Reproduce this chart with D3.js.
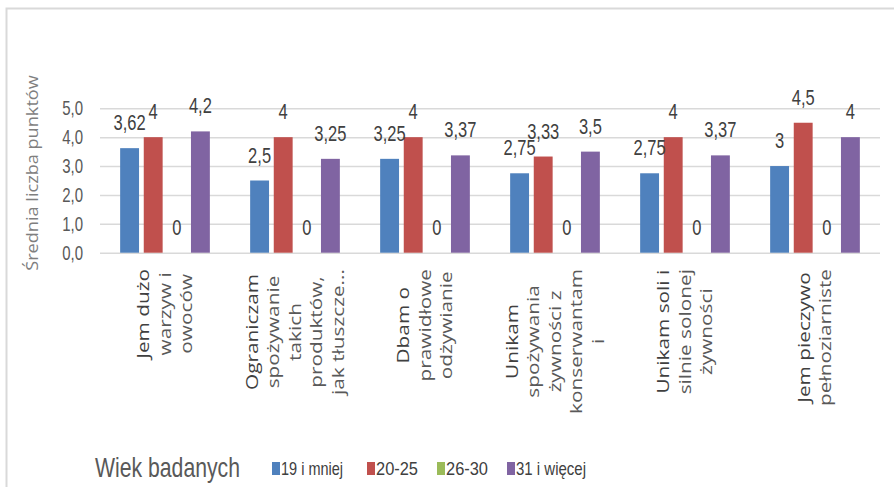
<!DOCTYPE html>
<html>
<head>
<meta charset="utf-8">
<script src="https://cdn.jsdelivr.net/npm/d3@7"></script>
<style>
  body { margin: 0; background: #fff; }
  svg { display: block; }
</style>
</head>
<body>
<div id="chart"></div>
<script>
// categories (multi-line labels as in the original)
var categories = [
  ["Jem dużo", "warzyw i", "owoców"],
  ["Ograniczam", "spożywanie", "takich", "produktów,", "jak tłuszcze..."],
  ["Dbam o", "prawidłowe", "odżywianie"],
  ["Unikam", "spożywania", "żywności z", "konserwantam", "i"],
  ["Unikam soli i", "silnie solonej", "żywności"],
  ["Jem pieczywo", "pełnoziarniste"]
];
var seriesNames = ["19 i mniej", "20-25", "26-30", "31 i więcej"];
var seriesColors = ["#4F81BD", "#C0504D", "#9BBB59", "#8064A2"];
var s19 = [3.62, 2.5, 3.25, 2.75, 2.75, 3];
var s2025 = [4, 4, 4, 3.33, 4, 4.5];
var s2630 = [0, 0, 0, 0, 0, 0];
var s31 = [4.2, 3.25, 3.37, 3.5, 3.37, 4];
var yTicks = [0, 1, 2, 3, 4, 5];

var seriesValues = [s19, s2025, s2630, s31];
var W = 894, H = 487;
var plot = {left: 100, right: 880, top: 108.3, bottom: 252.7};
var narrow = "'Liberation Sans', Arial, sans-serif";
var sans = "'Open Sans', 'Noto Sans', sans-serif";
var squeeze = 0.75;   // the original picture is stretched vertically

var svg = d3.select("#chart").append("svg")
  .attr("width", W).attr("height", H);

// outer chart frame (only top and left edges are in view)
svg.append("rect")
  .attr("x", 6.5).attr("y", 8.5)
  .attr("width", W + 20).attr("height", H + 20)
  .attr("fill", "none").attr("stroke", "#d9d9d9").attr("stroke-width", 2);

var x0 = d3.scaleBand()
  .domain(d3.range(categories.length))
  .range([plot.left, plot.right])
  .paddingInner(0.31).paddingOuter(0.155);
var x1 = d3.scaleBand()
  .domain(d3.range(seriesNames.length))
  .range([0, x0.bandwidth()])
  .padding(0.2).paddingOuter(0);
var y = d3.scaleLinear().domain([0, 5]).range([plot.bottom, plot.top]);

// gridlines
var yAxis = d3.axisLeft(y).tickValues(yTicks)
  .tickSize(-(plot.right - plot.left)).tickFormat("");
var ya = svg.append("g").attr("transform", "translate(" + plot.left + ",0)").call(yAxis);
ya.select(".domain").remove();
ya.selectAll(".tick line").attr("stroke", "#d9d9d9").attr("stroke-width", 1.5);

// y tick labels
svg.selectAll("text.ytick").data(yTicks).enter().append("text")
  .attr("class", "ytick")
  .attr("transform", function(d) { return "translate(83," + (y(d) + 7) + ") scale(" + squeeze + ",1)"; })
  .attr("text-anchor", "end")
  .attr("font-family", narrow).attr("font-size", 20).attr("fill", "#595959")
  .text(function(d) { return d3.format(".1f")(d).replace(".", ","); });

// bars
var rows = categories.map(function(c, i) {
  return seriesValues.map(function(s, k) { return {cat: i, k: k, v: s[i]}; });
});
var groups = svg.selectAll("g.grp").data(rows).enter().append("g")
  .attr("class", "grp")
  .attr("transform", function(d, i) { return "translate(" + x0(i) + ",0)"; });
groups.selectAll("rect").data(function(d) { return d; }).enter().append("rect")
  .attr("x", function(d) { return x1(d.k); })
  .attr("width", x1.bandwidth())
  .attr("y", function(d) { return y(d.v); })
  .attr("height", function(d) { return y(0) - y(d.v); })
  .attr("fill", function(d) { return seriesColors[d.k]; });
groups.selectAll("text").data(function(d) { return d; }).enter().append("text")
  .attr("transform", function(d) {
    return "translate(" + (x1(d.k) + x1.bandwidth() / 2) + "," + (y(d.v) - 18) + ") scale(" + squeeze + ",1)";
  })
  .attr("text-anchor", "middle")
  .attr("font-family", narrow).attr("font-size", 22).attr("fill", "#404040")
  .text(function(d) { return String(d.v).replace(".", ","); });

// category labels, rotated, block's longest line ends at top
var labelTop = 269, lineGap = 21.5, stretch = 1.3;
categories.forEach(function(lines, i) {
  var cx = x0(i) + x0.bandwidth() / 2;
  var g = svg.append("g");
  var texts = lines.map(function(t, j) {
    return g.append("text")
      .attr("font-family", sans).attr("font-size", 16)
      .attr("fill", j === 0 ? "#404040" : "#595959")
      .attr("text-anchor", "middle").attr("dy", "0.35em")
      .text(t);
  });
  var maxLen = stretch * d3.max(texts, function(t) { return t.node().getComputedTextLength(); });
  var cy = labelTop + maxLen / 2;
  texts.forEach(function(t, j) {
    var lx = cx + (j - (lines.length - 1) / 2) * lineGap;
    t.attr("transform", "translate(" + lx + "," + cy + ") rotate(-90) scale(" + stretch + ",1)");
  });
});

// y axis title
svg.append("text")
  .attr("transform", "translate(32,173) rotate(-90) scale(1.1,1)")
  .attr("text-anchor", "middle").attr("dy", "0.35em")
  .attr("font-family", sans).attr("font-size", 16.5).attr("fill", "#7f7f7f")
  .text("Średnia liczba punktów");

// legend
svg.append("text")
  .attr("x", 95).attr("y", 477)
  .attr("font-family", narrow).attr("font-size", 28).attr("fill", "#595959")
  .attr("textLength", 145).attr("lengthAdjust", "spacingAndGlyphs")
  .text("Wiek badanych");
var legendX = [272, 367, 437, 507];
var legendW = [62, 42, 42, 70];
seriesNames.forEach(function(n, k) {
  svg.append("rect")
    .attr("x", legendX[k]).attr("y", 462)
    .attr("width", 8).attr("height", 13)
    .attr("fill", seriesColors[k]);
  svg.append("text")
    .attr("x", legendX[k] + 9).attr("y", 475)
    .attr("font-family", narrow).attr("font-size", 19).attr("fill", "#404040")
    .attr("textLength", legendW[k]).attr("lengthAdjust", "spacingAndGlyphs")
    .text(n);
});
</script>
</body>
</html>
